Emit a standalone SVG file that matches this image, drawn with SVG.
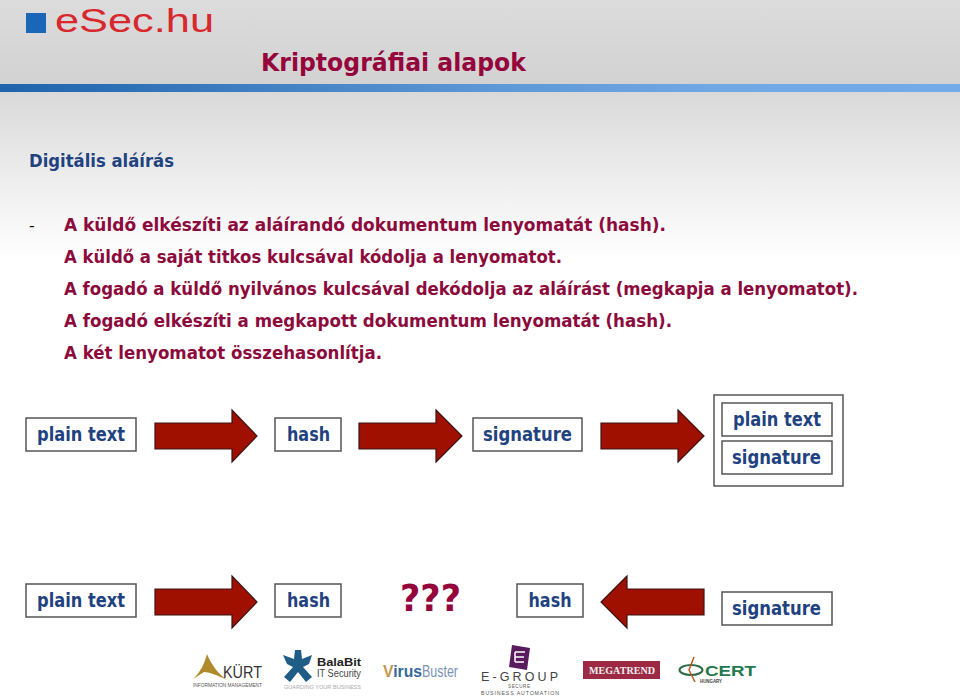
<svg xmlns="http://www.w3.org/2000/svg" width="960" height="697" viewBox="0 0 960 697">
<style>
text{font-family:"DejaVu Sans","Liberation Sans",sans-serif}
.b{font-size:17.5px;font-weight:700;fill:#8c0a3c}
.l{font-size:19px;font-weight:700;fill:#1f4280}
.box{fill:#fff;stroke:#555;stroke-width:1.5}
.ar{fill:#a01000;stroke:#3a1414;stroke-width:1.2}
.s{font-family:"Liberation Sans",sans-serif}
</style>
<defs>
<linearGradient id="hd" x1="0" y1="0" x2="0" y2="1"><stop offset="0" stop-color="#dcdcdc"/><stop offset="1" stop-color="#d2d2d2"/></linearGradient>
<linearGradient id="bar" x1="0" y1="0" x2="1" y2="0"><stop offset="0" stop-color="#1f63ac"/><stop offset=".5" stop-color="#5b97d6"/><stop offset=".75" stop-color="#70a8e4"/><stop offset="1" stop-color="#72abe8"/></linearGradient>
<linearGradient id="fd" x1="0" y1="0" x2="0" y2="1"><stop offset="0" stop-color="#d9d9d9"/><stop offset=".5" stop-color="#ededed"/><stop offset="1" stop-color="#fff"/></linearGradient>
</defs>
<rect width="960" height="697" fill="#fff"/>
<g id="header">
<rect width="960" height="84" fill="url(#hd)"/>
<rect y="84" width="960" height="8" fill="url(#bar)"/>
<rect y="92" width="960" height="168" fill="url(#fd)"/>
<rect x="26" y="13" width="20" height="20" fill="#1a66b8"/>
<text x="55" y="32" font-size="33" fill="#d8282e" class="s" textLength="159" lengthAdjust="spacingAndGlyphs">eSec.hu</text>
<text x="261" y="71" font-size="25" font-weight="700" fill="#96043c" textLength="265" lengthAdjust="spacingAndGlyphs">Kriptográfiai alapok</text>
</g>
<g id="body">
<text x="29" y="167" font-size="18" font-weight="700" fill="#1f4280" textLength="145" lengthAdjust="spacingAndGlyphs">Digitális aláírás</text>
<text x="29" y="231" font-size="16" fill="#111">-</text>
<text class="b" x="64" y="231" textLength="602" lengthAdjust="spacingAndGlyphs">A küldő elkészíti az aláírandó dokumentum lenyomatát (hash).</text>
<text class="b" x="64" y="263" textLength="498" lengthAdjust="spacingAndGlyphs">A küldő a saját titkos kulcsával kódolja a lenyomatot.</text>
<text class="b" x="64" y="295" textLength="794" lengthAdjust="spacingAndGlyphs">A fogadó a küldő nyilvános kulcsával dekódolja az aláírást (megkapja a lenyomatot).</text>
<text class="b" x="64" y="327" textLength="608" lengthAdjust="spacingAndGlyphs">A fogadó elkészíti a megkapott dokumentum lenyomatát (hash).</text>
<text class="b" x="64" y="359" textLength="318" lengthAdjust="spacingAndGlyphs">A két lenyomatot összehasonlítja.</text>
</g>
<g id="connectors">
<path class="ar" d="M155 423H232V410L257 436L232 462V449H155Z"/>
<path class="ar" d="M359 423H436V410L462 436L436 462V449H359Z"/>
<path class="ar" d="M601 423H678V410L704 436L678 462V449H601Z"/>
<path class="ar" d="M155 589H232V576L257 602L232 628V615H155Z"/>
<path class="ar" d="M704 589H627V576L601 602L627 628V615H704Z"/>
</g>
<g id="n1"><rect class="box" x="26" y="418" width="110" height="33"/><text class="l" x="37" y="441" textLength="88" lengthAdjust="spacingAndGlyphs">plain text</text></g>
<g id="n2"><rect class="box" x="275" y="418" width="66" height="33"/><text class="l" x="287" y="441" textLength="43" lengthAdjust="spacingAndGlyphs">hash</text></g>
<g id="n3"><rect class="box" x="473" y="418" width="109" height="33"/><text class="l" x="483" y="441" textLength="89" lengthAdjust="spacingAndGlyphs">signature</text></g>
<g id="n4"><rect class="box" x="714" y="395" width="129" height="91"/>
<rect class="box" x="722" y="403" width="110" height="33"/><text class="l" x="733" y="426" textLength="88" lengthAdjust="spacingAndGlyphs">plain text</text>
<rect class="box" x="722" y="441" width="110" height="33"/><text class="l" x="732" y="464" textLength="89" lengthAdjust="spacingAndGlyphs">signature</text></g>
<g id="n5"><rect class="box" x="26" y="584" width="110" height="33"/><text class="l" x="37" y="607" textLength="88" lengthAdjust="spacingAndGlyphs">plain text</text></g>
<g id="n6"><rect class="box" x="275" y="584" width="66" height="33"/><text class="l" x="287" y="607" textLength="43" lengthAdjust="spacingAndGlyphs">hash</text></g>
<g id="n7"><text x="400" y="611" font-size="38" font-weight="700" fill="#96043c" textLength="61" lengthAdjust="spacingAndGlyphs">???</text></g>
<g id="n8"><rect class="box" x="517" y="584" width="66" height="33"/><text class="l" x="528.500" y="607" textLength="43" lengthAdjust="spacingAndGlyphs">hash</text></g>
<g id="n9"><rect class="box" x="722" y="592" width="110" height="33"/><text class="l" x="732" y="615" textLength="89" lengthAdjust="spacingAndGlyphs">signature</text></g>
<g id="logos">
<g id="logo-kurt">
<path d="M193 679C201 672 205 662 207 654C211 664 218 674 227 680C217 675 209 672 204 672C200 674 197 677 193 679Z" fill="#b08a2a"/>
<text class="s" x="223" y="678" font-size="17" fill="#333" textLength="39" lengthAdjust="spacingAndGlyphs">KÜRT</text>
<text class="s" x="193" y="687" font-size="5" fill="#555" textLength="69" lengthAdjust="spacingAndGlyphs">INFORMATION MANAGEMENT</text>
</g>
<g id="logo-balabit">
<path d="M295 650L301 650L302 659L312 655L309 664L303 667L312 677L306 682L298 672L290 682L284 677L293 667L287 664L283 655L294 659Z" fill="#1f5c86"/>
<text class="s" x="317" y="666" font-size="11" font-weight="700" fill="#222" textLength="44" lengthAdjust="spacingAndGlyphs">BalaBit</text>
<text class="s" x="317" y="677" font-size="10.500" fill="#444" textLength="44" lengthAdjust="spacingAndGlyphs">IT Security</text>
<text class="s" x="284" y="689" font-size="5.500" fill="#aaa" textLength="77" lengthAdjust="spacingAndGlyphs">GUARDING YOUR BUSINESS</text>
</g>
<g id="logo-virusbuster">
<text class="s" x="383" y="677" font-size="17" font-weight="700" fill="#35689a" textLength="39" lengthAdjust="spacingAndGlyphs"><tspan fill="#c09a50">V</tspan>irus</text>
<text class="s" x="422" y="677" font-size="16" fill="#7a92b4" textLength="36" lengthAdjust="spacingAndGlyphs">Buster</text>
</g>
<g id="logo-egroup">
<path d="M512 645L530 648L527 670L509 667Z" fill="#5a1a5e"/>
<path d="M515 652H525M515 657H524M515 662H524M515 652V662" stroke="#fff" stroke-width="1.500" fill="none"/>
<text class="s" x="481" y="681" font-size="12.500" fill="#444" textLength="77" lengthAdjust="spacing">E-GROUP</text>
<text class="s" x="508" y="688" font-size="4.500" fill="#555" textLength="22" lengthAdjust="spacing">SECURE</text>
<text class="s" x="481" y="695" font-size="5.200" fill="#555" textLength="78" lengthAdjust="spacing">BUSINESS AUTOMATION</text>
</g>
<g id="logo-megatrend">
<rect x="583" y="661" width="77" height="18" fill="#9c2a45"/>
<text x="589" y="674" font-size="10" font-weight="700" fill="#eee" style="font-family:'Liberation Serif',serif" textLength="66" lengthAdjust="spacingAndGlyphs">MEGATREND</text>
</g>
<g id="logo-cert">
<ellipse cx="691" cy="670" rx="11.500" ry="5" fill="none" stroke="#2d6b46" stroke-width="2"/>
<path d="M694 657L689 670L695 682" fill="none" stroke="#b85a20" stroke-width="1.500"/>
<text class="s" x="705" y="676" font-size="15" font-weight="700" fill="#1f7a50" textLength="51" lengthAdjust="spacingAndGlyphs">CERT</text>
<text class="s" x="700" y="683" font-size="5" font-weight="700" fill="#444" textLength="22" lengthAdjust="spacingAndGlyphs">HUNGARY</text>
</g>
</g>
</svg>
